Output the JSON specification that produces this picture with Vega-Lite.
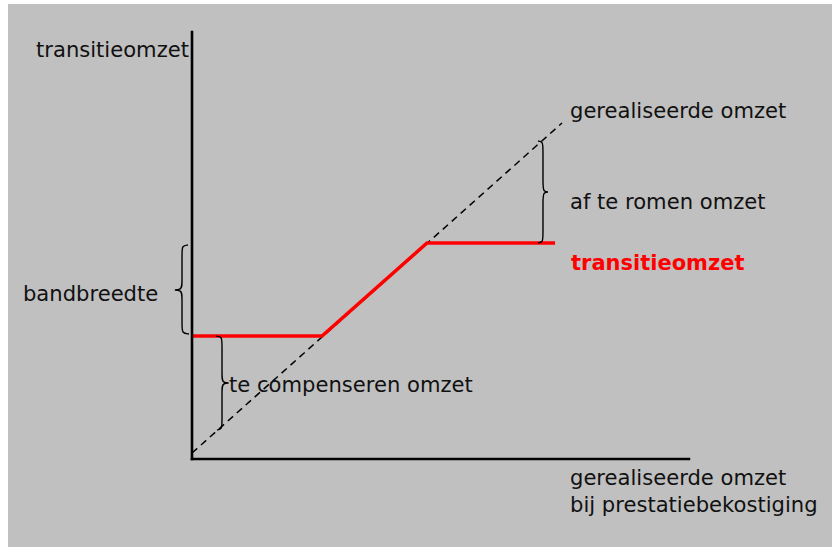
{
  "$schema": "https://vega.github.io/schema/vega-lite/v6.json",
  "width": 832,
  "height": 547,
  "autosize": {"type": "fit", "contains": "padding"},
  "padding": {"left": 8, "top": 4, "right": 0, "bottom": 0},
  "background": "white",
  "config": {"view": {"fill": "#c0c0c0", "stroke": null}},
  "datasets": {
    "axes": [
      {"id": "yaxis", "o": 0, "x": 0, "y": 0},
      {"id": "yaxis", "o": 1, "x": 0, "y": 129.4},
      {"id": "xaxis", "o": 0, "x": 0, "y": 0},
      {"id": "xaxis", "o": 1, "x": 134.3, "y": 0}
    ],
    "diagonal": [
      {"o": 0, "x": 0, "y": 1.82},
      {"o": 1, "x": 100.0, "y": 101.82}
    ],
    "transitie": [
      {"o": 0, "x": 0, "y": 37.27},
      {"o": 1, "x": 35.14, "y": 37.27},
      {"o": 2, "x": 63.51, "y": 65.45},
      {"o": 3, "x": 98.11, "y": 65.45}
    ],
    "braces": [
      {"id": "bandbreedte", "o": 0, "x": -1.08, "y": 64.85},
      {"id": "bandbreedte", "o": 1, "x": -2.70, "y": 64.55},
      {"id": "bandbreedte", "o": 2, "x": -2.70, "y": 62.73},
      {"id": "bandbreedte", "o": 3, "x": -2.70, "y": 53.33},
      {"id": "bandbreedte", "o": 4, "x": -2.70, "y": 51.21},
      {"id": "bandbreedte", "o": 5, "x": -5.60, "y": 51.21},
      {"id": "bandbreedte", "o": 6, "x": -2.70, "y": 51.21},
      {"id": "bandbreedte", "o": 7, "x": -2.70, "y": 49.09},
      {"id": "bandbreedte", "o": 8, "x": -2.70, "y": 40.0},
      {"id": "bandbreedte", "o": 9, "x": -2.70, "y": 38.18},
      {"id": "bandbreedte", "o": 10, "x": -0.81, "y": 37.88},
      {"id": "compenseren", "o": 0, "x": 6.49, "y": 37.27},
      {"id": "compenseren", "o": 1, "x": 8.11, "y": 36.97},
      {"id": "compenseren", "o": 2, "x": 8.11, "y": 35.15},
      {"id": "compenseren", "o": 3, "x": 8.11, "y": 25.15},
      {"id": "compenseren", "o": 4, "x": 8.11, "y": 23.03},
      {"id": "compenseren", "o": 5, "x": 10.8, "y": 23.03},
      {"id": "compenseren", "o": 6, "x": 8.11, "y": 23.03},
      {"id": "compenseren", "o": 7, "x": 8.11, "y": 20.91},
      {"id": "compenseren", "o": 8, "x": 8.11, "y": 10.91},
      {"id": "compenseren", "o": 9, "x": 8.11, "y": 9.09},
      {"id": "compenseren", "o": 10, "x": 6.76, "y": 8.79},
      {"id": "afromen", "o": 0, "x": 93.51, "y": 96.36},
      {"id": "afromen", "o": 1, "x": 94.86, "y": 96.06},
      {"id": "afromen", "o": 2, "x": 94.86, "y": 94.24},
      {"id": "afromen", "o": 3, "x": 94.86, "y": 83.03},
      {"id": "afromen", "o": 4, "x": 94.86, "y": 80.91},
      {"id": "afromen", "o": 5, "x": 96.9, "y": 80.91},
      {"id": "afromen", "o": 6, "x": 94.86, "y": 80.91},
      {"id": "afromen", "o": 7, "x": 94.86, "y": 78.79},
      {"id": "afromen", "o": 8, "x": 94.86, "y": 67.58},
      {"id": "afromen", "o": 9, "x": 94.86, "y": 65.76},
      {"id": "afromen", "o": 10, "x": 93.51, "y": 65.45}
    ],
    "labels": [
      {"label": "transitieomzet", "x": -42.16, "y": 121.82},
      {"label": "bandbreedte", "x": -45.68, "y": 47.88},
      {"label": "te compenseren omzet", "x": 10.0, "y": 20.3},
      {"label": "gerealiseerde omzet", "x": 102.16, "y": 103.33},
      {"label": "af te romen omzet", "x": 102.16, "y": 75.76},
      {"label": "gerealiseerde omzet", "x": 102.16, "y": -7.88},
      {"label": "bij prestatiebekostiging", "x": 102.16, "y": -16.06}
    ],
    "redlabel": [
      {"label": "transitieomzet", "x": 102.43, "y": 57.27}
    ]
  },
  "encoding": {
    "x": {"field": "x", "type": "quantitative", "scale": {"domain": [-49.73, 172.97], "nice": false, "zero": false}, "axis": null},
    "y": {"field": "y", "type": "quantitative", "scale": {"domain": [-26.67, 137.88], "nice": false, "zero": false}, "axis": null}
  },
  "layer": [
    {
      "data": {"name": "diagonal"},
      "mark": {"type": "line", "color": "#000000", "strokeWidth": 1.5, "strokeDash": [7, 5]},
      "encoding": {"order": {"field": "o", "type": "quantitative"}}
    },
    {
      "data": {"name": "transitie"},
      "mark": {"type": "line", "color": "#ff0000", "strokeWidth": 3.5},
      "encoding": {"order": {"field": "o", "type": "quantitative"}}
    },
    {
      "data": {"name": "axes"},
      "mark": {"type": "line", "color": "#000000", "strokeWidth": 2.6, "strokeCap": "square"},
      "encoding": {"detail": {"field": "id"}, "order": {"field": "o", "type": "quantitative"}}
    },
    {
      "data": {"name": "braces"},
      "mark": {"type": "line", "color": "#000000", "strokeWidth": 1.4, "interpolate": "basis"},
      "encoding": {"detail": {"field": "id"}, "order": {"field": "o", "type": "quantitative"}}
    },
    {
      "data": {"name": "labels"},
      "mark": {"type": "text", "align": "left", "baseline": "alphabetic", "font": "DejaVu Sans", "fontSize": 21.1, "color": "#111111"},
      "encoding": {"text": {"field": "label"}}
    },
    {
      "data": {"name": "redlabel"},
      "mark": {"type": "text", "align": "left", "baseline": "alphabetic", "font": "DejaVu Sans", "fontWeight": "bold", "fontSize": 21, "color": "#ff0000"},
      "encoding": {"text": {"field": "label"}}
    }
  ]
}
